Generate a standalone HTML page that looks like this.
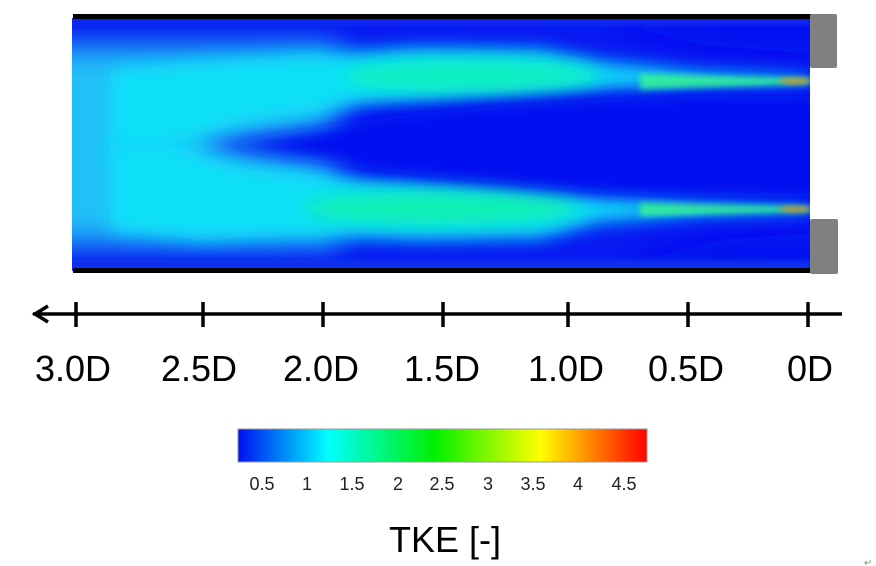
<!DOCTYPE html>
<html><head><meta charset="utf-8"><style>
html,body{margin:0;padding:0;background:#fff;width:876px;height:566px;overflow:hidden}
svg{display:block;font-family:"Liberation Sans",Arial,sans-serif}
</style></head><body>
<svg width="876" height="566" viewBox="0 0 876 566" xmlns="http://www.w3.org/2000/svg">
<defs>
<clipPath id="c"><rect x="72" y="18" width="738" height="253"/></clipPath>
<filter id="b1" filterUnits="userSpaceOnUse" x="0" y="0" width="876" height="320"><feGaussianBlur stdDeviation="16"/></filter>
<filter id="b2" filterUnits="userSpaceOnUse" x="0" y="0" width="876" height="320"><feGaussianBlur stdDeviation="9"/></filter>
<filter id="b3" filterUnits="userSpaceOnUse" x="0" y="0" width="876" height="320"><feGaussianBlur stdDeviation="3"/></filter>
<linearGradient id="cb" x1="0" x2="1">
<stop offset="0" stop-color="#0010f0"/><stop offset="0.22" stop-color="#00ffff"/>
<stop offset="0.48" stop-color="#00f000"/><stop offset="0.74" stop-color="#ffff00"/>
<stop offset="1" stop-color="#ff0000"/></linearGradient>
</defs>
<g clip-path="url(#c)">
<rect x="72" y="18" width="738" height="253" fill="#0818f2"/>
<!-- left cyan area -->
<rect x="40" y="45" width="300" height="200" fill="#20c0f8" filter="url(#b1)"/>
<!-- upper jet -->
<polygon points="810,76 700,72 600,62 540,50 420,48 300,55 200,62 110,70 110,150 170,145 250,120 360,105 480,97 600,90 700,86 810,84" fill="#10e0f8" filter="url(#b2)"/>
<!-- lower jet -->
<polygon points="810,205 700,200 600,195 480,185 360,178 250,170 170,145 110,145 110,230 200,240 300,236 420,240 540,238 600,222 700,214 810,212" fill="#10e0f8" filter="url(#b2)"/>
<!-- green cores -->
<ellipse cx="470" cy="76" rx="130" ry="16" fill="#10f0c0" filter="url(#b2)"/>
<ellipse cx="440" cy="208" rx="140" ry="16" fill="#10f0b0" filter="url(#b2)"/>
<polygon points="640,74 810,78 810,84 640,90" fill="#30f0a0" filter="url(#b3)"/>
<polygon points="640,202 810,206 810,212 640,216" fill="#30f0a0" filter="url(#b3)"/>
<ellipse cx="795" cy="81" rx="16" ry="2.5" fill="#ff9900" filter="url(#b3)"/>
<ellipse cx="795" cy="209" rx="16" ry="2.5" fill="#ff9900" filter="url(#b3)"/>
<!-- dark core -->
<polygon points="830,96 700,96 600,100 480,108 380,118 300,130 200,145 300,160 380,170 480,180 600,192 700,196 830,196" fill="#0010f0" filter="url(#b2)"/>
<polygon points="830,0 650,0 620,25 700,45 830,55" fill="#0010f0" filter="url(#b1)"/>
<polygon points="830,300 650,300 640,260 720,240 830,232" fill="#0010f0" filter="url(#b1)"/>
<rect x="72" y="10" width="738" height="16" fill="#0828f0" filter="url(#b3)"/>
<rect x="72" y="260" width="738" height="16" fill="#0830f0" filter="url(#b3)"/>
</g>
<rect x="73" y="14" width="738" height="5" fill="#000"/>
<rect x="73" y="268" width="738" height="5" fill="#000"/>
<rect x="810" y="14" width="27" height="54" rx="2" fill="#808080"/>
<rect x="810" y="219" width="28" height="55" rx="2" fill="#808080"/>
<g stroke="#000" stroke-width="3.5" fill="none">
<line x1="33" y1="314" x2="842" y2="314"/>
<polyline points="48,306 35,314 48,322"/>
<line x1="76" y1="302" x2="76" y2="327"/>
<line x1="203" y1="302" x2="203" y2="327"/>
<line x1="323" y1="302" x2="323" y2="327"/>
<line x1="443" y1="302" x2="443" y2="327"/>
<line x1="568" y1="302" x2="568" y2="327"/>
<line x1="688" y1="302" x2="688" y2="327"/>
<line x1="808" y1="302" x2="808" y2="327"/>
</g>
<g font-size="36" fill="#000" text-anchor="middle">
<text x="73" y="381">3.0D</text>
<text x="199" y="381">2.5D</text>
<text x="321" y="381">2.0D</text>
<text x="442" y="381">1.5D</text>
<text x="566" y="381">1.0D</text>
<text x="686" y="381">0.5D</text>
<text x="810" y="381">0D</text>
</g>
<rect x="238" y="429" width="409" height="33" fill="url(#cb)" stroke="#999" stroke-width="1"/>
<g font-size="18" fill="#222" text-anchor="middle">
<text x="262" y="490">0.5</text><text x="307" y="490">1</text><text x="352" y="490">1.5</text>
<text x="398" y="490">2</text><text x="442" y="490">2.5</text><text x="488" y="490">3</text>
<text x="533" y="490">3.5</text><text x="578" y="490">4</text><text x="624" y="490">4.5</text>
</g>
<text x="445" y="552" font-size="36" text-anchor="middle" fill="#000">TKE [-]</text>
<text x="864" y="566" font-size="10" fill="#888">↵</text>
</svg>
</body></html>
